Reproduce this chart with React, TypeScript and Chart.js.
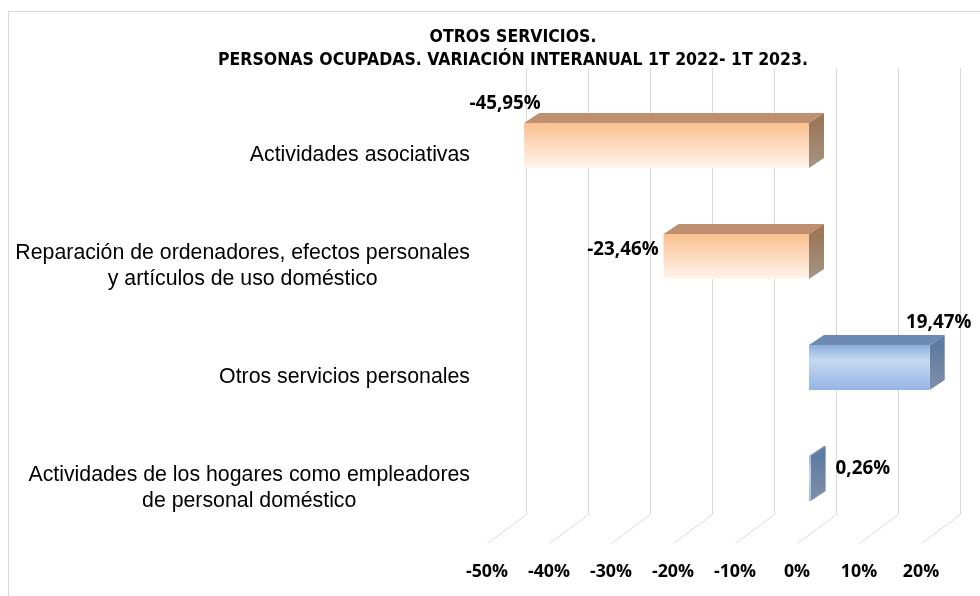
import React, { useEffect, useRef } from "react";
import { Chart, registerables } from "chart.js";

Chart.register(...registerables);

const titleLines = [
  "OTROS SERVICIOS.",
  "PERSONAS OCUPADAS. VARIACIÓN INTERANUAL 1T 2022- 1T 2023.",
];
const categories: (string | string[])[] = [
  "Actividades asociativas",
  ["Reparación de ordenadores, efectos personales", "y artículos de uso doméstico"],
  "Otros servicios personales",
  ["Actividades de los hogares como empleadores", "de personal doméstico"],
];
const values = [-45.95, -23.46, 19.47, 0.26];
const valueLabels = ["-45,95%", "-23,46%", "19,47%", "0,26%"];
const tickMin = -50;
const tickMax = 20;
const tickStep = 10;

// styling / geometry
const BAR_DX = 12;
const BAR_DY = -9.5;
const DEPTH_X = 15;
const DEPTH_Y = -10;
const GRID_DX = 39;
const GRID_DY = -29;
const GRID_TOP = 68;
const PAD_LEFT = 105;
const PLOT_LEFT = 487;
const LABEL_FONT = "'Open Sans', 'DejaVu Sans', sans-serif";
const CAT_FONT = "'Liberation Sans', Arial, sans-serif";

type LabelPos = { anchor: "left" | "right"; dx: number; dy: number; align: CanvasTextAlign };
const labelPos: LabelPos[] = [
  { anchor: "left", dx: -19, dy: -19, align: "center" },
  { anchor: "left", dx: -5, dy: 16, align: "right" },
  { anchor: "right", dx: 9, dy: -22, align: "center" },
  { anchor: "right", dx: 25, dy: 13, align: "left" },
];

const decoPlugin = {
  id: "deco3d",
  beforeDatasetsDraw(chart: any) {
    const ctx = chart.ctx as CanvasRenderingContext2D;
    const xs = chart.scales.x;
    const area = chart.chartArea;
    ctx.save();
    // outer frame
    ctx.strokeStyle = "#D9D9D9";
    ctx.lineWidth = 1;
    ctx.strokeRect(8.5, 11.5, 1000, 700);
    // grid lines (back wall + floor)
    for (let v = tickMin; v <= tickMax; v += tickStep) {
      const px = Math.round(xs.getPixelForValue(v)) + 0.5;
      const bottom = area.bottom;
      ctx.beginPath();
      ctx.moveTo(px + GRID_DX, GRID_TOP);
      ctx.lineTo(px + GRID_DX, bottom + GRID_DY);
      ctx.lineTo(px, bottom);
      ctx.stroke();
    }
    // category labels
    const ys = chart.scales.y;
    ctx.fillStyle = "#000";
    ctx.font = `21.3px ${CAT_FONT}`;
    ctx.textBaseline = "middle";
    ctx.textAlign = "center";
    const right = area.left - 17;
    categories.forEach((lab, i) => {
      const lines = Array.isArray(lab) ? lab : [lab];
      const yc = ys.getPixelForTick(i);
      const w = Math.max(...lines.map((l) => ctx.measureText(l).width));
      const cx = right - w / 2;
      lines.forEach((l, j) => {
        ctx.fillText(l, cx, yc + (j - (lines.length - 1) / 2) * 26);
      });
    });
    ctx.restore();
  },
  afterDatasetsDraw(chart: any) {
    const ctx = chart.ctx as CanvasRenderingContext2D;
    const meta = chart.getDatasetMeta(0);
    ctx.save();
    meta.data.forEach((el: any, i: number) => {
      const { x, y, base, height } = el.getProps(["x", "y", "base", "height"], true);
      const neg = values[i] < 0;
      const x0 = Math.min(x, base) + BAR_DX;
      const x1 = Math.max(x, base) + BAR_DX;
      const y0 = y + BAR_DY - height / 2;
      const y1 = y0 + height;
      // top face
      ctx.beginPath();
      ctx.moveTo(x0, y0);
      ctx.lineTo(x1, y0);
      ctx.lineTo(x1 + DEPTH_X, y0 + DEPTH_Y);
      ctx.lineTo(x0 + DEPTH_X, y0 + DEPTH_Y);
      ctx.closePath();
      ctx.fillStyle = neg ? "#BF906F" : "#6C8AB4";
      ctx.fill();
      // side face
      const sg = ctx.createLinearGradient(0, y0, 0, y1);
      if (neg) {
        sg.addColorStop(0, "#9C7758");
        sg.addColorStop(1, "#A59586");
      } else {
        sg.addColorStop(0, "#5F7BA2");
        sg.addColorStop(1, "#7F8FA7");
      }
      ctx.beginPath();
      ctx.moveTo(x1, y0);
      ctx.lineTo(x1 + DEPTH_X, y0 + DEPTH_Y);
      ctx.lineTo(x1 + DEPTH_X, y1 + DEPTH_Y);
      ctx.lineTo(x1, y1);
      ctx.closePath();
      ctx.fillStyle = sg;
      ctx.fill();
      // front face
      const fg = ctx.createLinearGradient(0, y0, 0, y1);
      if (neg) {
        fg.addColorStop(0, "#FAC08F");
        fg.addColorStop(1, "#FFF4EC");
      } else {
        fg.addColorStop(0, "#8DAFDD");
        fg.addColorStop(0.35, "#C6D9F1");
        fg.addColorStop(1, "#93B5E4");
      }
      ctx.fillStyle = fg;
      ctx.fillRect(x0, y0, Math.max(x1 - x0, 1.5), y1 - y0);
      // value label
      const p = labelPos[i];
      const ax = p.anchor === "left" ? x0 : x1;
      ctx.fillStyle = "#000";
      ctx.font = `bold 18.8px ${LABEL_FONT}`;
      ctx.textAlign = p.align;
      ctx.textBaseline = "middle";
      ctx.fillText(valueLabels[i], ax + p.dx, y0 + p.dy);
    });
    ctx.restore();
  },
};

export default function App() {
  const ref = useRef<HTMLCanvasElement | null>(null);
  useEffect(() => {
    document.body.style.margin = "0";
    const canvas = ref.current;
    if (!canvas) return;
    const chart = new Chart(canvas, {
      type: "bar",
      data: {
        labels: categories.map((c) => (Array.isArray(c) ? c.join(" ") : c)),
        datasets: [
          {
            data: values,
            backgroundColor: "rgba(0,0,0,0)",
            borderWidth: 0,
            barThickness: 45,
          },
        ],
      },
      options: {
        indexAxis: "y",
        responsive: false,
        animation: false,
        layout: { padding: { left: PAD_LEFT, right: 59, top: 0, bottom: 0 } },
        plugins: {
          legend: { display: false },
          tooltip: { enabled: false },
          title: {
            display: true,
            text: titleLines,
            color: "#000",
            font: {
              family: "'Liberation Sans Narrow', 'DejaVu Sans Condensed', sans-serif",
              size: 17.5,
              weight: "bold",
              lineHeight: 1.32,
            },
            padding: { top: 25.5, bottom: 27.8 },
          },
        },
        scales: {
          x: {
            type: "linear",
            min: tickMin,
            max: tickMax,
            grid: { display: false, drawTicks: false },
            border: { display: false },
            ticks: {
              stepSize: tickStep,
              autoSkip: false,
              maxRotation: 0,
              padding: 18,
              color: "#000",
              font: { family: LABEL_FONT, size: 17.8, weight: "bold", lineHeight: 1.2 },
              callback: (v: any) => `${v}%`,
            },
            afterFit: (s: any) => {
              s.height = 52.5;
            },
          },
          y: {
            type: "category",
            grid: { display: false, drawTicks: false },
            border: { display: false },
            ticks: { display: false },
            afterFit: (s: any) => {
              s.width = PLOT_LEFT - PAD_LEFT;
            },
          },
        },
      },
      plugins: [decoPlugin],
    } as any);
    return () => chart.destroy();
  }, []);
  return <canvas ref={ref} width={980} height={596} style={{ display: "block" }} />;
}
